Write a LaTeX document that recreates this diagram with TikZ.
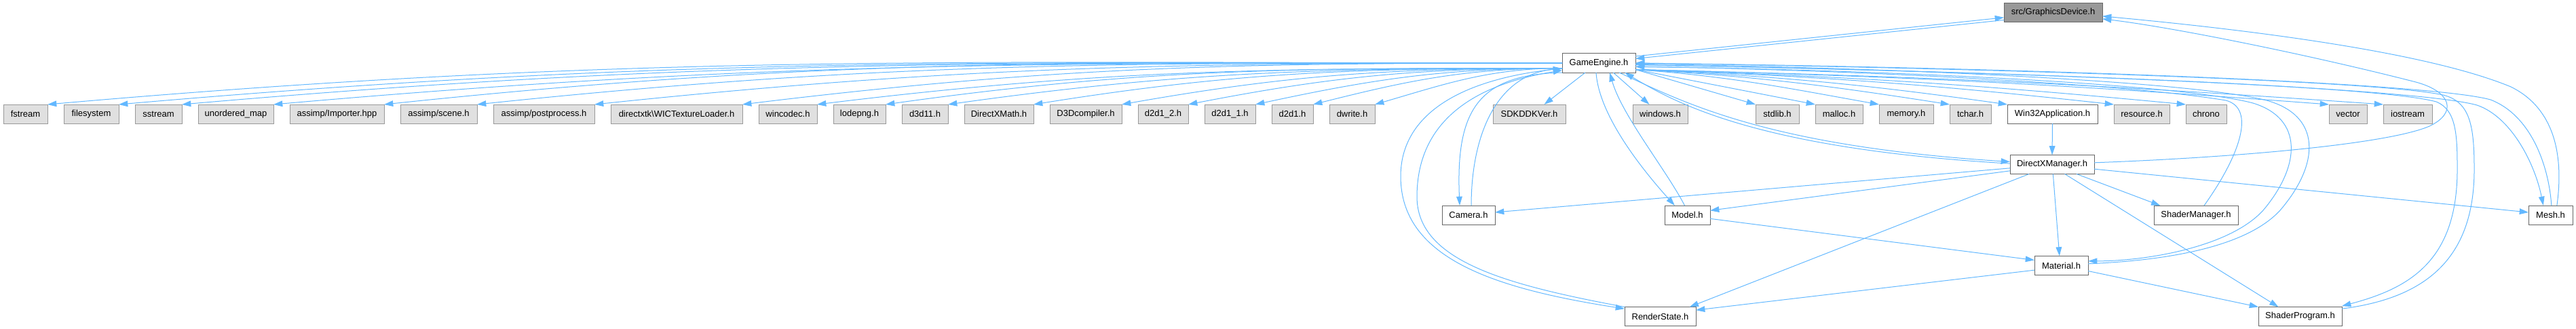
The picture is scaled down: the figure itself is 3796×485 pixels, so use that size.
\documentclass[tikz,border=0pt]{standalone}
\usepackage{fontspec}
\setmainfont{Liberation Sans}
\usetikzlibrary{positioning,arrows.meta}
\definecolor{edgeblue}{HTML}{63B8FF}
\definecolor{sysfill}{HTML}{E0E0E0}
\definecolor{sysline}{HTML}{999999}
\definecolor{fileline}{HTML}{666666}
\definecolor{rootfill}{HTML}{999999}

\begin{document}
\begin{tikzpicture}[x=0.75pt, y=-0.75pt, node distance=18pt,
  box/.style={rectangle, minimum height=21pt, inner xsep=2pt, inner ysep=0pt, outer sep=0pt, line width=0.75pt, font=\fontsize{9.75}{11}\selectfont},
  boxw/.style={minimum width=#1*0.75pt},
  sysbox/.style={box, fill=sysfill, draw=sysline},
  filebox/.style={box, fill=white, draw=fileline},
  rootbox/.style={box, fill=rootfill, draw=fileline},
  incl/.style={draw=edgeblue, line width=0.75pt, -{Triangle[length=10pt,width=6.5pt]}}]
\useasboundingbox (0,0) rectangle (3796,485);

% project headers
\node[rootbox, boxw=145] (gfx) at (3025.5,18.5) {src/GraphicsDevice.h};
\node[filebox, boxw=108] (engine) at (2356,93) {GameEngine.h};
\node[filebox, boxw=124] (dxmgr) at (3024,242.5) {DirectXManager.h};
\node[filebox, boxw=78] (camera) at (2164,317) {Camera.h};
\node[filebox, boxw=67] (model) at (2486.5,317) {Model.h};
\node[filebox, boxw=124] (shadermgr) at (3236,317) {ShaderManager.h};
\node[filebox, boxw=65] (mesh) at (3758.5,317) {Mesh.h};
\node[filebox, boxw=79] (material) at (3037.5,391.5) {Material.h};
\node[filebox, boxw=105] (renderstate) at (2446.5,466.5) {RenderState.h};
\node[filebox, boxw=123] (shaderprog) at (3389.5,466.5) {ShaderProgram.h};

% system headers, left block
\node[sysbox, boxw=65] (fstream) at (37.5,168) {fstream};
\node[sysbox, boxw=81, right=of fstream] (filesystem) {filesystem};
\node[sysbox, boxw=69, right=of filesystem] (sstream) {sstream};
\node[sysbox, boxw=111, right=of sstream] (umap) {unordered\_map};
\node[sysbox, boxw=139, right=of umap] (importer) {assimp/Importer.hpp};
\node[sysbox, boxw=113, right=of importer] (scene) {assimp/scene.h};
\node[sysbox, boxw=149, right=of scene] (postproc) {assimp/postprocess.h};
\node[sysbox, boxw=194, right=of postproc] (wictex) {directxtk\textbackslash WICTextureLoader.h};
\node[sysbox, boxw=86, right=of wictex] (wincodec) {wincodec.h};
\node[sysbox, boxw=77, right=of wincodec] (lodepng) {lodepng.h};
\node[sysbox, boxw=68, right=of lodepng] (d3d) {d3d11.h};
\node[sysbox, boxw=102, right=of d3d] (dxmath) {DirectXMath.h};
\node[sysbox, boxw=106, right=of dxmath] (d3dcomp) {D3Dcompiler.h};
\node[sysbox, boxw=74, right=of d3dcomp] (d2dtwo) {d2d1\_2.h};
\node[sysbox, boxw=75, right=of d2dtwo] (d2done) {d2d1\_1.h};
\node[sysbox, boxw=61, right=of d2done] (d2d) {d2d1.h};
\node[sysbox, boxw=67, right=of d2d] (dwrite) {dwrite.h};

% system headers, right block
\node[sysbox, boxw=107] (sdkver) at (2253.5,168) {SDKDDKVer.h};
\node[sysbox, boxw=81] (windows) at (2446.5,168) {windows.h};
\node[sysbox, boxw=64] (stdlib) at (2619,168) {stdlib.h};
\node[sysbox, boxw=70, right=of stdlib] (malloc) {malloc.h};
\node[sysbox, boxw=80, right=of malloc] (memory) {memory.h};
\node[sysbox, boxw=61, right=of memory] (tchar) {tchar.h};
\node[filebox, boxw=133, right=of tchar] (winapp) {Win32Application.h};
\node[sysbox, boxw=82, right=of winapp] (resource) {resource.h};
\node[sysbox, boxw=60, right=of resource] (chrono) {chrono};
\node[sysbox, boxw=56] (vector) at (3460,168) {vector};
\node[sysbox, boxw=72, right=of vector] (iostream) {iostream};

% GameEngine.h -> left block
\draw[incl] (engine.west) .. controls +(-870,0) and +(867,-76) .. (fstream.north east);
\draw[incl] (engine.west) .. controls +(-830,0) and +(827,-72) .. (filesystem.north east);
\draw[incl] (engine.west) .. controls +(-794,0) and +(791,-69) .. (sstream.north east);
\draw[incl] (engine.west) .. controls +(-741,0) and +(738,-65) .. (umap.north east);
\draw[incl] (engine.west) .. controls +(-678,0) and +(674,-71) .. (importer.north east);
\draw[incl] (engine.west) .. controls +(-624,0) and +(621,-65) .. (scene.north east);
\draw[incl] (engine.west) .. controls +(-556,0) and +(553,-58) .. (postproc.north east);
\draw[incl] (engine.west) .. controls +(-471,0) and +(467,-57) .. (wictex.north east);
\draw[incl] (engine.188) .. controls +(-428,0) and +(425,-52) .. (wincodec.north east);
\draw[incl] (engine.188) .. controls +(-389,0) and +(385,-54) .. (lodepng.north east);
\draw[incl] (engine.188) .. controls +(-353,0) and +(350,-49) .. (d3d.north east);
\draw[incl] (engine.188) .. controls +(-304,0) and +(300,-48) .. (dxmath.north east);
\draw[incl] (engine.188) .. controls +(-253,0) and +(249,-44) .. (d3dcomp.north east);
\draw[incl] (engine.188) .. controls +(-215,0) and +(211,-41) .. (d2dtwo.north east);
\draw[incl] (engine.188) .. controls +(-176,0) and +(172,-37) .. (d2done.north east);
\draw[incl] (engine.188) .. controls +(-143,0) and +(139,-35) .. (d2d.north east);
\draw[incl] (engine.188) .. controls +(-107,0) and +(103,-30) .. (dwrite.north east);

% GameEngine.h -> right block
\draw[incl] ([xshift=-15pt]engine.south) -- ([xshift=16.5pt]sdkver.north);
\draw[incl] ([xshift=16pt]engine.south) -- ([xshift=-12pt]windows.north);
\draw[incl] (engine.-10) -- (stdlib.north west);
\draw[incl] (engine.-10) -- (malloc.north west);
\draw[incl] (engine.-10) .. controls +(140,10) and +(-140,-25) .. (memory.north west);
\draw[incl] (engine.-10) .. controls +(180,10) and +(-180,-28) .. (tchar.north west);
\draw[incl] (engine.-10) .. controls +(214,10) and +(-214,-30) .. (winapp.north west);
\draw[incl] (engine.-10) .. controls +(275,10) and +(-275,-30) .. (resource.north west);
\draw[incl] (engine.-10) .. controls +(317,10) and +(-317,-30) .. (chrono.north west);
\draw[incl] (engine.-10) .. controls +(399,10) and +(-399,-30) .. (vector.north west);
\draw[incl] (engine.-10) .. controls +(430,10) and +(-430,-30) .. (iostream.north west);

% GraphicsDevice.h <-> GameEngine.h
\draw[incl] ([yshift=7.5pt]engine.east) -- ([yshift=-5.5pt]gfx.west);
\draw[incl] ([yshift=-8.25pt]gfx.west) -- ([yshift=4.9pt]engine.east);

% GameEngine.h <-> Camera.h, RenderState.h, Model.h
\draw[incl] (engine.south west) .. controls (2180,110) and (2145,160) .. ([xshift=-9.75pt]camera.north);
\draw[incl] ([xshift=3pt]camera.north) .. controls (2168,200) and (2205,110) .. ([yshift=-6pt]engine.west);
\draw[incl] ([yshift=-6pt]engine.west) .. controls (2150,115) and (2064,170) .. (2064,260) .. controls (2064,380) and (2200,425) .. ([yshift=-2pt]renderstate.north west);
\draw[incl] (renderstate.north west) .. controls (2220,420) and (2088,385) .. (2088,290) .. controls (2088,180) and (2170,125) .. ([yshift=-8pt]engine.west);
\draw[incl] ([xshift=-3pt]engine.south) .. controls (2356,170) and (2420,250) .. ([xshift=-14pt]model.north);
\draw[incl] ([xshift=-3pt]model.north) .. controls (2455,250) and (2390,170) .. ([xshift=12pt]engine.south);

% GameEngine.h <-> DirectXManager.h
\draw[incl] (engine.-25) .. controls (2480,150) and (2600,215) .. ([yshift=3pt]dxmgr.west);
\draw[incl] ([yshift=1pt]dxmgr.west) .. controls (2600,220) and (2475,156) .. (engine.-20);

% loops back into GameEngine.h on the right
\draw[incl] ([xshift=9pt]shadermgr.north) .. controls (3300,230) and (3325,160) .. (3280,148) .. controls (3100,118) and (2600,100) .. ([yshift=-4pt]engine.east);
\draw[incl] ([yshift=-4pt]engine.east) .. controls (2800,103) and (3220,125) .. (3320,152) .. controls (3395,175) and (3390,245) .. (3335,310) .. controls (3285,365) and (3160,385) .. ([yshift=5pt]material.east);
\draw[incl] ([yshift=2pt]material.east) .. controls (3170,385) and (3305,370) .. (3360,310) .. controls (3420,240) and (3420,170) .. (3340,148) .. controls (3230,120) and (2800,100) .. ([yshift=-1pt]engine.east);
\draw[incl] ([yshift=-2pt]engine.east) .. controls (2900,104) and (3500,125) .. (3590,150) .. controls (3620,162) and (3621,200) .. (3621,250) .. controls (3621,385) and (3550,425) .. ([yshift=1pt]shaderprog.north east);
\draw[incl] ([yshift=-2pt]shaderprog.north east) .. controls (3570,440) and (3646,385) .. (3646,250) .. controls (3646,185) and (3640,150) .. (3600,140) .. controls (3500,118) and (2900,100) .. (engine.east);
\draw[incl] ([yshift=-2pt]engine.east) .. controls (3000,106) and (3560,130) .. (3650,155) .. controls (3700,172) and (3735,240) .. ([xshift=-8pt]mesh.north);
\draw[incl] ([xshift=1pt]mesh.north) .. controls (3756,245) and (3730,170) .. (3670,147) .. controls (3580,122) and (3000,100) .. (engine.east);

% loops back into GraphicsDevice.h
\draw[incl] ([xshift=7pt]mesh.north) .. controls (3778,230) and (3765,160) .. (3700,128) .. controls (3560,70) and (3250,38) .. ([yshift=-4pt]gfx.east);
\draw[incl] ([yshift=2pt]dxmgr.east) .. controls (3300,232) and (3520,212) .. (3580,186) .. controls (3622,166) and (3612,135) .. (3560,121) .. controls (3400,80) and (3200,40) .. ([yshift=-7pt]gfx.east);

% DirectXManager.h and below
\draw[incl] (winapp.south) -- (dxmgr.north);
\draw[incl] ([yshift=-4pt]dxmgr.west) -- ([yshift=3pt]camera.east);
\draw[incl] ([yshift=-7pt]dxmgr.west) -- ([yshift=5pt]model.east);
\draw[incl] ([xshift=-25.5pt]dxmgr.south) -- ([xshift=-7pt]renderstate.north east);
\draw[incl] ([xshift=1pt]dxmgr.south) -- ([xshift=-2pt]material.north);
\draw[incl] ([xshift=27pt]dxmgr.south) -- ([xshift=7pt]shadermgr.north west);
\draw[incl] ([xshift=14pt]dxmgr.south) -- ([xshift=-24pt]shaderprog.north);
\draw[incl] ([yshift=-5pt]dxmgr.east) -- ([yshift=3pt]mesh.west);
\draw[incl] ([yshift=-4pt]model.east) -- ([yshift=6pt]material.west);
\draw[incl] ([yshift=-5pt]material.west) -- ([yshift=7pt]renderstate.east);
\draw[incl] ([yshift=-6pt]material.east) -- (shaderprog.north west);
\end{tikzpicture}
\end{document}
